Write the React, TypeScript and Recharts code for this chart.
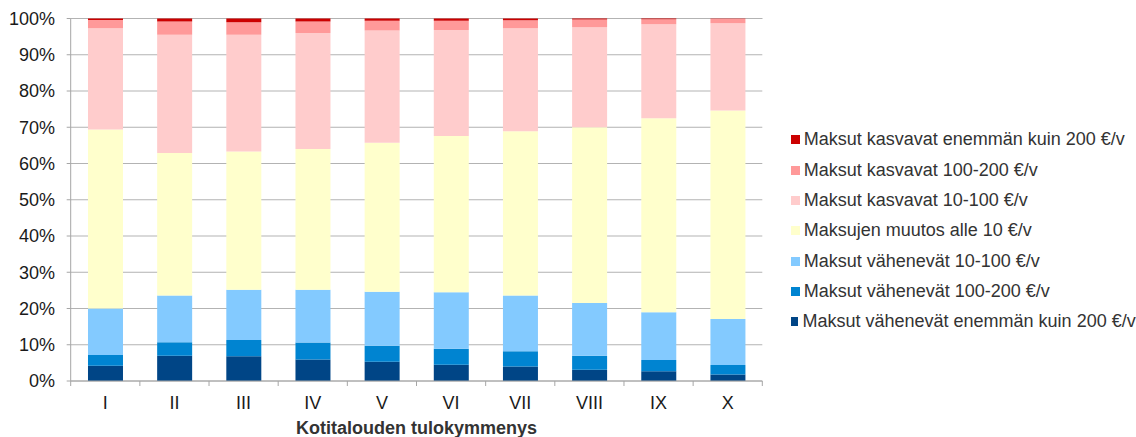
import React from 'react';
import { BarChart, Bar, XAxis, YAxis, CartesianGrid, Legend } from 'recharts';

const categories = ['I', 'II', 'III', 'IV', 'V', 'VI', 'VII', 'VIII', 'IX', 'X'];
const vahEnemman = [4.2, 7.0, 6.8, 5.9, 5.3, 4.5, 4.0, 3.1, 2.7, 1.8];
const vah100200 = [3.0, 3.7, 4.5, 4.7, 4.4, 4.4, 4.2, 3.9, 3.1, 2.6];
const vah10100 = [12.8, 12.9, 13.9, 14.6, 14.9, 15.6, 15.4, 14.5, 13.2, 12.7];
const alle10 = [49.4, 39.3, 38.1, 38.8, 41.1, 43.1, 45.3, 48.5, 53.5, 57.5];
const kas10100 = [27.9, 32.6, 32.2, 32.0, 31.0, 29.2, 28.4, 27.6, 25.9, 24.1];
const kas100200 = [2.3, 3.7, 3.5, 3.2, 2.7, 2.6, 2.2, 2.1, 1.4, 1.2];
const kasEnemman = [0.4, 0.8, 1.0, 0.8, 0.6, 0.6, 0.5, 0.3, 0.2, 0.1];
const yTicks = [0, 10, 20, 30, 40, 50, 60, 70, 80, 90, 100];

const series = [
  { key: 'vahEnemman', name: 'Maksut vähenevät enemmän kuin 200 €/v', values: vahEnemman, color: '#004586' },
  { key: 'vah100200', name: 'Maksut vähenevät 100-200 €/v', values: vah100200, color: '#0084d1' },
  { key: 'vah10100', name: 'Maksut vähenevät 10-100 €/v', values: vah10100, color: '#83caff' },
  { key: 'alle10', name: 'Maksujen muutos alle 10 €/v', values: alle10, color: '#ffffcc' },
  { key: 'kas10100', name: 'Maksut kasvavat 10-100 €/v', values: kas10100, color: '#ffcccc' },
  { key: 'kas100200', name: 'Maksut kasvavat 100-200 €/v', values: kas100200, color: '#ff9999' },
  { key: 'kasEnemman', name: 'Maksut kasvavat enemmän kuin 200 €/v', values: kasEnemman, color: '#cc0000' },
];

const data = categories.map((c, i) => {
  const row: Record<string, string | number> = { cat: c };
  series.forEach((s) => {
    row[s.key] = s.values[i];
  });
  return row;
});

const FONT = '"Liberation Sans", Arial, sans-serif';
const AXIS_COLOR = '#a6a6a6';

const CategoryTick = (props: any) => {
  const { x, y, payload, width, visibleTicksCount, index } = props;
  const band = Number(width) / Number(visibleTicksCount);
  const ok = Number.isFinite(band);
  return (
    <g>
      {ok && <line x1={x - band / 2} x2={x - band / 2} y1={y} y2={y + 5} stroke={AXIS_COLOR} />}
      {ok && index === visibleTicksCount - 1 && (
        <line x1={x + band / 2} x2={x + band / 2} y1={y} y2={y + 5} stroke={AXIS_COLOR} />
      )}
      <text x={x} y={y + 28} textAnchor="middle" fontSize={18} fill="#1a1a1a" fontFamily={FONT}>
        {payload.value}
      </text>
    </g>
  );
};

const LegendContent = () => (
  <div style={{ fontFamily: FONT, fontSize: 18, color: '#333' }}>
    {[...series].reverse().map((s) => (
      <div key={s.key} style={{ display: 'flex', alignItems: 'center', height: 30.33, whiteSpace: 'nowrap' }}>
        <span style={{ display: 'inline-block', width: 9, height: 9, background: s.color, marginRight: 4 }} />
        <span>{s.name}</span>
      </div>
    ))}
  </div>
);

export default function App() {
  return (
    <div style={{ position: 'absolute', left: 0, top: 0 }}>
      <BarChart
        width={1136}
        height={437}
        data={data}
        margin={{ top: 18.5, right: 373.7, bottom: 0, left: 0 }}
        barCategoryGap="25%"
        style={{ fontFamily: FONT }}
      >
        <CartesianGrid horizontal vertical={false} stroke="#b3b3b3" />
        <XAxis
          dataKey="cat"
          height={56}
          stroke={AXIS_COLOR}
          tickLine={false}
          tickSize={0}
          tickMargin={0}
          interval={0}
          tick={<CategoryTick />}
          label={{
            value: 'Kotitalouden tulokymmenys',
            position: 'insideBottom',
            offset: 3,
            style: { fontSize: 18, fontWeight: 'bold', fill: '#333' },
          }}
        />
        <YAxis
          width={70.7}
          domain={[0, 100]}
          ticks={yTicks}
          tickFormatter={(v) => `${v}%`}
          tickSize={4}
          tickMargin={11.7}
          stroke={AXIS_COLOR}
          tick={{ fontSize: 18, fill: '#1a1a1a' }}
        />
        <YAxis yAxisId="r" orientation="right" width={0} tick={false} stroke={AXIS_COLOR} />
        <Legend
          layout="horizontal"
          align="center"
          verticalAlign="middle"
          content={<LegendContent />}
          wrapperStyle={{ left: 790.7, top: 124.8, width: 345 }}
        />
        {series.map((s) => (
          <Bar key={s.key} dataKey={s.key} name={s.name} stackId="a" fill={s.color} isAnimationActive={false} />
        ))}
      </BarChart>
    </div>
  );
}
